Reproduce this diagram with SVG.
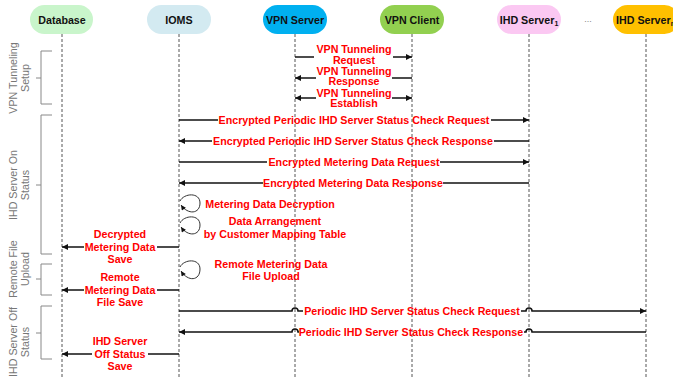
<svg xmlns="http://www.w3.org/2000/svg" width="673" height="378" viewBox="0 0 673 378">
<style>
.hdr{font-family:"Liberation Sans",Arial,sans-serif;font-weight:bold;font-size:10.7px;fill:#111;text-anchor:middle}
.msg{font-family:"Liberation Sans",Arial,sans-serif;font-weight:bold;font-size:10.7px;fill:#ff0000;text-anchor:middle}
.grp{font-family:"Liberation Sans",Arial,sans-serif;font-size:10.7px;fill:#777;text-anchor:middle}
.life{stroke:#555;stroke-width:1;stroke-dasharray:3 2;fill:none}
.ln{stroke:#111;stroke-width:1.5;fill:none}
.loop{stroke:#333;stroke-width:1;fill:none}
.br{stroke:#888;stroke-width:1;fill:none}
</style>
<defs>
<marker id="ah" viewBox="0 0 10 10" refX="10" refY="5" markerWidth="8" markerHeight="6" markerUnits="userSpaceOnUse" orient="auto">
<path d="M0,0 L10,5 L0,10 z" fill="#111"/>
</marker>
<marker id="ahs" viewBox="0 0 10 10" refX="10" refY="5" markerWidth="7" markerHeight="5" markerUnits="userSpaceOnUse" orient="auto">
<path d="M0,0 L10,5 L0,10 z" fill="#111"/>
</marker>
</defs>
<rect width="673" height="378" fill="#fff"/>

<g id="node-database">
<rect x="30" y="5" width="63" height="29" rx="14.5" fill="#c9f5cb"/>
<text class="hdr" x="62" y="24">Database</text>
<line class="life" x1="62" y1="34" x2="62" y2="378"/>
</g>
<g id="node-ioms">
<rect x="147" y="5" width="64" height="29" rx="14.5" fill="#d3eaf1"/>
<text class="hdr" x="179" y="24">IOMS</text>
<line class="life" x1="179" y1="34" x2="179" y2="378"/>
</g>
<g id="node-vpn-server">
<rect x="263" y="5" width="64" height="29" rx="14.5" fill="#00b0f0"/>
<text class="hdr" x="295" y="24">VPN Server</text>
<line class="life" x1="295" y1="34" x2="295" y2="378"/>
</g>
<g id="node-vpn-client">
<rect x="380" y="5" width="64" height="29" rx="14.5" fill="#92d050"/>
<text class="hdr" x="412" y="24">VPN Client</text>
<line class="life" x1="412" y1="34" x2="412" y2="378"/>
</g>
<g id="node-ihd1">
<rect x="497" y="5" width="64" height="29" rx="14.5" fill="#fbc8f2"/>
<text class="hdr" x="529" y="24">IHD Server<tspan font-size="7" dy="2">1</tspan></text>
<line class="life" x1="529" y1="34" x2="529" y2="378"/>
</g>
<text x="588" y="22" font-family="Liberation Sans,Arial,sans-serif" font-size="9" fill="#888" text-anchor="middle">...</text>
<g id="node-ihdn">
<rect x="613" y="5" width="66" height="29" rx="14.5" fill="#ffc000"/>
<text class="hdr" x="616" y="24" style="text-anchor:start">IHD Server<tspan font-size="7" dy="2">n</tspan></text>
<line class="life" x1="646" y1="34" x2="646" y2="378"/>
</g>

<g id="groups">
<path class="br" d="M52,51 H41 V104 H52 M41,78 H36"/>
<text class="grp" transform="rotate(-90)" x="-78" y="17">VPN Tunneling</text>
<text class="grp" transform="rotate(-90)" x="-78" y="29">Setup</text>
<path class="br" d="M52,115 H41 V254 H52 M41,185 H36"/>
<text class="grp" transform="rotate(-90)" x="-185" y="17">IHD Server On</text>
<text class="grp" transform="rotate(-90)" x="-185" y="29">Status</text>
<path class="br" d="M52,264 H41 V295 H52 M41,279 H36"/>
<text class="grp" transform="rotate(-90)" x="-269" y="17">Remote File</text>
<text class="grp" transform="rotate(-90)" x="-269" y="29">Upload</text>
<path class="br" d="M52,306 H41 V359 H52 M41,333 H36"/>
<text class="grp" transform="rotate(-90)" x="-342" y="17">IHD Server Off</text>
<text class="grp" transform="rotate(-90)" x="-342" y="29">Status</text>
</g>

<g id="connectors">
<path class="ln" d="M295,57 H314"/>
<path class="ln" d="M393,57 H412" marker-end="url(#ah)"/>
<path class="ln" d="M412,78 H392"/>
<path class="ln" d="M316,78 H295" marker-end="url(#ah)"/>
<path class="ln" d="M316,98 H295" marker-end="url(#ah)"/>
<path class="ln" d="M392,98 H412" marker-end="url(#ah)"/>

<path class="ln" d="M179,120 H218"/>
<path class="ln" d="M491,120 H529" marker-end="url(#ah)"/>
<path class="ln" d="M529,141 H494"/>
<path class="ln" d="M212,141 H179" marker-end="url(#ah)"/>
<path class="ln" d="M179,162 H267"/>
<path class="ln" d="M440,162 H529" marker-end="url(#ah)"/>
<path class="ln" d="M529,183 H443"/>
<path class="ln" d="M263,183 H179" marker-end="url(#ah)"/>

<path class="loop" d="M180,201 C184,193 200,192 200,203 C200,214 188,215 181,205" marker-end="url(#ahs)"/>
<path class="loop" d="M180,223 C184,215 200,214 200,225 C200,236 188,237 181,227" marker-end="url(#ahs)"/>
<path class="loop" d="M180,267 C184,259 200,258 200,269 C200,281 188,282 181,271" marker-end="url(#ahs)"/>

<path class="ln" d="M84,247 H62" marker-end="url(#ah)"/>
<path class="ln" d="M157,247 H179"/>
<path class="ln" d="M84,290 H62" marker-end="url(#ah)"/>
<path class="ln" d="M157,290 H179"/>

<path class="ln" d="M179,311 H292 A3,3 0 0 1 298,311 H303"/>
<path class="ln" d="M521,311 H526 A3,3 0 0 1 532,311 H646" marker-end="url(#ah)"/>
<path class="ln" d="M646,332 H532 A3,3 0 0 0 526,332 H524"/>
<path class="ln" d="M299,332 H298 A3,3 0 0 0 292,332 H179" marker-end="url(#ah)"/>

<path class="ln" d="M92,354 H62" marker-end="url(#ah)"/>
<path class="ln" d="M148,354 H179"/>
</g>

<g id="labels">
<text class="msg" x="354" y="53">VPN Tunneling</text>
<text class="msg" x="354" y="63.5">Request</text>
<text class="msg" x="354" y="74.8">VPN Tunneling</text>
<text class="msg" x="354" y="85">Response</text>
<text class="msg" x="354" y="96.5">VPN Tunneling</text>
<text class="msg" x="354" y="106.5">Establish</text>
<text class="msg" x="354" y="124">Encrypted Periodic IHD Server Status Check Request</text>
<text class="msg" x="353" y="145">Encrypted Periodic IHD Server Status Check Response</text>
<text class="msg" x="354" y="166">Encrypted Metering Data Request</text>
<text class="msg" x="353" y="187">Encrypted Metering Data Response</text>
<text class="msg" x="270" y="208">Metering Data Decryption</text>
<text class="msg" x="275" y="225">Data Arrangement</text>
<text class="msg" x="275" y="238">by Customer Mapping Table</text>
<text class="msg" x="120" y="238">Decrypted</text>
<text class="msg" x="120" y="251">Metering Data</text>
<text class="msg" x="120" y="263">Save</text>
<text class="msg" x="271" y="268">Remote Metering Data</text>
<text class="msg" x="271" y="280">File Upload</text>
<text class="msg" x="120" y="281">Remote</text>
<text class="msg" x="120" y="294">Metering Data</text>
<text class="msg" x="120" y="306">File Save</text>
<text class="msg" x="412" y="315">Periodic IHD Server Status Check Request</text>
<text class="msg" x="411" y="336">Periodic IHD Server Status Check Response</text>
<text class="msg" x="120" y="345">IHD Server</text>
<text class="msg" x="120" y="358">Off Status</text>
<text class="msg" x="120" y="370">Save</text>
</g>
</svg>
